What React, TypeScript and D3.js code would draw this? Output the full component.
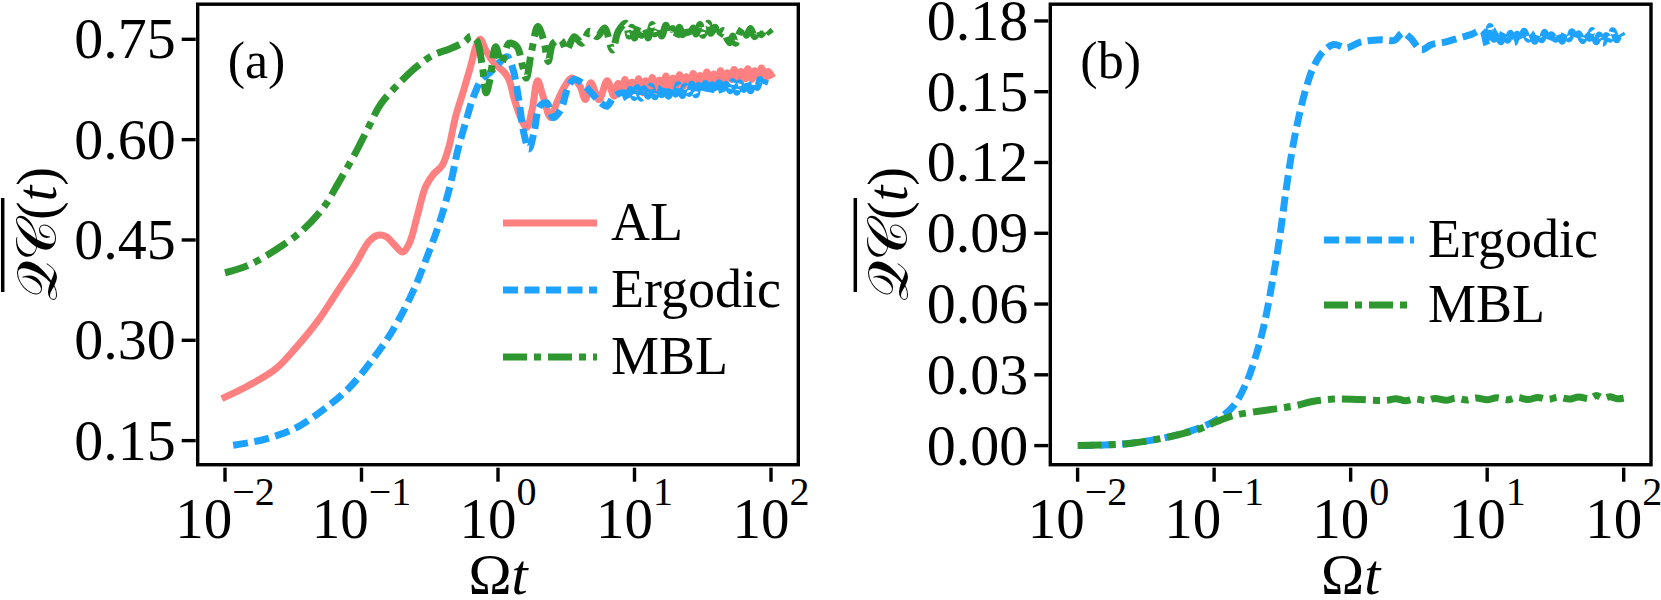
import React from 'react';
import * as d3 from 'd3';

// values: [log10(Ωt), value]
const alA = [
  [-2.0, 0.215], [-1.83, 0.232], [-1.63, 0.257], [-1.48, 0.289], [-1.32, 0.329], [-1.17, 0.375],
  [-1.05, 0.412], [-0.94, 0.449], [-0.88, 0.457], [-0.82, 0.455], [-0.76, 0.443], [-0.7, 0.432],
  [-0.65, 0.445], [-0.59, 0.487], [-0.53, 0.53], [-0.47, 0.549], [-0.41, 0.561], [-0.36, 0.589],
  [-0.31, 0.635], [-0.25, 0.675], [-0.2, 0.71], [-0.16, 0.74], [-0.13, 0.75], [-0.09, 0.734],
  [-0.03, 0.715], [0.04, 0.702], [0.08, 0.69], [0.12, 0.66], [0.17, 0.631], [0.21, 0.618],
  [0.25, 0.645], [0.29, 0.688], [0.33, 0.665], [0.385, 0.633], [0.43, 0.655], [0.49, 0.68],
  [0.54, 0.692], [0.6, 0.68], [0.64, 0.66], [0.68, 0.685], [0.74, 0.66], [0.8, 0.688],
  [0.85, 0.665], [0.88, 0.684], [0.91, 0.672], [0.93, 0.69], [0.96, 0.668], [0.98, 0.686],
  [1.01, 0.674], [1.03, 0.691], [1.06, 0.67], [1.08, 0.688], [1.11, 0.676], [1.13, 0.693],
  [1.16, 0.673], [1.18, 0.689], [1.21, 0.679], [1.23, 0.695], [1.26, 0.677], [1.28, 0.692],
  [1.31, 0.681], [1.33, 0.697], [1.36, 0.68], [1.38, 0.694], [1.41, 0.684], [1.43, 0.699],
  [1.46, 0.683], [1.48, 0.696], [1.51, 0.686], [1.53, 0.701], [1.56, 0.685], [1.58, 0.698],
  [1.61, 0.688], [1.63, 0.703], [1.66, 0.687], [1.68, 0.7], [1.71, 0.69], [1.73, 0.705],
  [1.76, 0.689], [1.78, 0.702], [1.81, 0.691], [1.83, 0.706], [1.86, 0.69], [1.88, 0.703],
  [1.91, 0.693], [1.93, 0.707], [1.96, 0.692], [1.98, 0.702], [2.0, 0.697],
];

const ergA = [
  [-1.94, 0.143], [-1.71, 0.152], [-1.48, 0.169], [-1.25, 0.201], [-1.09, 0.229], [-0.935, 0.267],
  [-0.78, 0.312], [-0.625, 0.372], [-0.51, 0.43], [-0.43, 0.475], [-0.35, 0.532], [-0.295, 0.584],
  [-0.24, 0.624], [-0.18, 0.664], [-0.12, 0.69], [-0.06, 0.7], [0.0, 0.713], [0.067, 0.724],
  [0.11, 0.705], [0.152, 0.66], [0.188, 0.611], [0.227, 0.586], [0.264, 0.611], [0.306, 0.65],
  [0.356, 0.655], [0.404, 0.633], [0.46, 0.645], [0.516, 0.68], [0.558, 0.69], [0.614, 0.685],
  [0.684, 0.67], [0.754, 0.655], [0.796, 0.65], [0.853, 0.665], [0.92, 0.67], [0.95, 0.66],
  [0.97, 0.675], [1.0, 0.663], [1.02, 0.678], [1.05, 0.662], [1.07, 0.676], [1.1, 0.665],
  [1.12, 0.68], [1.15, 0.664], [1.17, 0.677], [1.2, 0.667], [1.22, 0.681], [1.25, 0.665],
  [1.27, 0.679], [1.3, 0.668], [1.32, 0.682], [1.35, 0.666], [1.37, 0.68], [1.4, 0.669],
  [1.42, 0.683], [1.45, 0.667], [1.47, 0.681], [1.5, 0.67], [1.52, 0.684], [1.55, 0.668],
  [1.57, 0.682], [1.6, 0.671], [1.62, 0.685], [1.65, 0.669], [1.67, 0.683], [1.7, 0.673],
  [1.72, 0.687], [1.75, 0.671], [1.77, 0.685], [1.8, 0.675], [1.82, 0.689], [1.85, 0.673],
  [1.87, 0.686], [1.9, 0.678], [1.92, 0.69], [1.94, 0.68], [1.96, 0.69],
];

const mblA = [
  [-2.0, 0.401], [-1.83, 0.412], [-1.63, 0.435], [-1.44, 0.463], [-1.28, 0.498], [-1.17, 0.535],
  [-1.05, 0.578], [-0.95, 0.618], [-0.86, 0.653], [-0.74, 0.681], [-0.59, 0.71], [-0.47, 0.727],
  [-0.35, 0.736], [-0.24, 0.747], [-0.2, 0.755], [-0.157, 0.749], [-0.115, 0.71], [-0.087, 0.67],
  [-0.059, 0.69], [-0.017, 0.739], [0.026, 0.715], [0.081, 0.744], [0.138, 0.739], [0.18, 0.71],
  [0.207, 0.692], [0.244, 0.73], [0.292, 0.769], [0.334, 0.749], [0.368, 0.717], [0.404, 0.744],
  [0.46, 0.749], [0.502, 0.734], [0.558, 0.754], [0.614, 0.744], [0.67, 0.762], [0.726, 0.754],
  [0.782, 0.767], [0.838, 0.734], [0.881, 0.762], [0.936, 0.774], [0.96, 0.755], [0.98, 0.768],
  [1.0, 0.752], [1.03, 0.77], [1.05, 0.756], [1.08, 0.767], [1.1, 0.752], [1.13, 0.772],
  [1.15, 0.758], [1.18, 0.769], [1.2, 0.755], [1.23, 0.771], [1.25, 0.758], [1.28, 0.766],
  [1.3, 0.752], [1.33, 0.768], [1.35, 0.757], [1.38, 0.77], [1.4, 0.754], [1.43, 0.767],
  [1.45, 0.758], [1.48, 0.772], [1.5, 0.756], [1.54, 0.774], [1.56, 0.759], [1.59, 0.768],
  [1.61, 0.753], [1.65, 0.763], [1.68, 0.75], [1.7, 0.745], [1.72, 0.755], [1.74, 0.744],
  [1.77, 0.76], [1.8, 0.768], [1.82, 0.756], [1.85, 0.766], [1.88, 0.754], [1.91, 0.764],
  [1.93, 0.757], [1.96, 0.766], [2.0, 0.758],
];

const ergB = [
  [-1.99, 0.0], [-1.64, 0.0008], [-1.33, 0.0037], [-1.13, 0.007], [-0.98, 0.011], [-0.86, 0.0167],
  [-0.765, 0.0265], [-0.687, 0.0395], [-0.629, 0.0525], [-0.571, 0.0703], [-0.52, 0.0882], [-0.474, 0.108],
  [-0.427, 0.1256], [-0.377, 0.14], [-0.326, 0.1516], [-0.272, 0.1605], [-0.202, 0.167], [-0.124, 0.17],
  [-0.027, 0.1686], [0.07, 0.171], [0.225, 0.172], [0.322, 0.1718], [0.381, 0.175], [0.439, 0.1727],
  [0.517, 0.1678], [0.594, 0.17], [0.691, 0.171], [0.789, 0.1727], [0.885, 0.1743], [0.963, 0.176],
  [1.0, 0.1695], [1.02, 0.1776], [1.05, 0.1722], [1.07, 0.176], [1.1, 0.1712], [1.12, 0.1752],
  [1.15, 0.1718], [1.17, 0.1748], [1.2, 0.1708], [1.22, 0.1744], [1.25, 0.1716], [1.27, 0.1756],
  [1.3, 0.1722], [1.32, 0.1748], [1.35, 0.1714], [1.37, 0.1746], [1.4, 0.172], [1.42, 0.1752],
  [1.45, 0.1716], [1.47, 0.1742], [1.5, 0.1722], [1.52, 0.175], [1.55, 0.1714], [1.57, 0.1748],
  [1.6, 0.1724], [1.62, 0.1754], [1.65, 0.1718], [1.67, 0.1746], [1.7, 0.1716], [1.72, 0.1748],
  [1.75, 0.1726], [1.77, 0.176], [1.8, 0.1712], [1.82, 0.174], [1.85, 0.1706], [1.87, 0.1738],
  [1.9, 0.1722], [1.92, 0.1758], [1.95, 0.172], [1.97, 0.1752], [1.99, 0.1735],
];

const mblB = [
  [-2.0, 0.0], [-1.64, 0.0008], [-1.33, 0.0037], [-1.095, 0.0073], [-0.98, 0.0102], [-0.86, 0.0127],
  [-0.707, 0.0143], [-0.513, 0.0159], [-0.396, 0.017], [-0.28, 0.0187], [-0.124, 0.0197], [0.07, 0.0195],
  [0.264, 0.0192], [0.33, 0.0199], [0.4, 0.019], [0.47, 0.0198], [0.55, 0.0191], [0.62, 0.02],
  [0.7, 0.0192], [0.77, 0.0201], [0.85, 0.0193], [0.92, 0.0202], [1.0, 0.0194], [1.07, 0.0203],
  [1.15, 0.0194], [1.22, 0.0204], [1.3, 0.0195], [1.37, 0.0204], [1.45, 0.0196], [1.52, 0.0205],
  [1.6, 0.0197], [1.67, 0.0206], [1.75, 0.0199], [1.8, 0.0212], [1.85, 0.0201], [1.9, 0.0207],
  [1.95, 0.0199], [2.0, 0.0201],
];

const xTickExp = [-2, -1, 0, 1, 2];
const yTicksA = [0.15, 0.3, 0.45, 0.6, 0.75];
const yTicksB = [0.0, 0.03, 0.06, 0.09, 0.12, 0.15, 0.18];

const COLORS = { al: '#ff8080', erg: '#1ea2ff', mbl: '#2f972f' };
const DASH = { al: null, erg: '15 6.5', mbl: '24 7 7 7' };
const FONT = "'Liberation Serif', 'Times New Roman', serif";

const Panel = ({ left, right, yDomain, yTicks, series, letter, labelX, legend }) => {
  const top = 4.2, bottom = 464.7;
  const x = d3.scaleLog().domain([10 ** -2.2, 10 ** 2.2]).range([left, right]);
  const y = d3.scaleLinear().domain(yDomain).range([bottom, top]);
  const line = d3.line()
    .x((d) => x(10 ** d[0]))
    .y((d) => y(d[1]))
    .curve(d3.curveCatmullRom.alpha(0.5));
  const fmt = d3.format('.2f');
  const cx = (left + right) / 2;

  return (
    <g>
      <defs>
        <clipPath id={'clip' + letter}>
          <rect x={left} y={top} width={right - left} height={bottom - top} />
        </clipPath>
      </defs>
      <g clipPath={`url(#clip${letter})`}>
        {series.map((s) => (
          <path key={s.key} d={line(s.data)} fill="none" stroke={COLORS[s.key]} strokeWidth={7}
            strokeDasharray={DASH[s.key] || undefined} strokeLinecap={DASH[s.key] ? 'butt' : 'square'}
            strokeLinejoin="round" />
        ))}
      </g>
      <rect x={left} y={top} width={right - left} height={bottom - top} fill="none" stroke="#000" strokeWidth={3.4} />

      {yTicks.map((t) => (
        <g key={t}>
          <line x1={left - 16} x2={left - 2} y1={y(t)} y2={y(t)} stroke="#000" strokeWidth={3.4} />
          <text x={left - 22} y={y(t) + 19} textAnchor="end" fontSize={58}>{fmt(t)}</text>
        </g>
      ))}

      {xTickExp.map((e) => (
        <g key={e}>
          <line x1={x(10 ** e)} x2={x(10 ** e)} y1={bottom + 3} y2={bottom + 17} stroke="#000" strokeWidth={3.4} />
          <text x={x(10 ** e)} y={538} textAnchor="middle" fontSize={57}>
            10<tspan fontSize={40} dy={-33}>{e < 0 ? '\u2212' + Math.abs(e) : e}</tspan>
          </text>
        </g>
      ))}

      <text x={cx} y={594} textAnchor="middle" fontSize={58}>
        Ω<tspan fontStyle="italic">t</tspan>
      </text>

      <g transform={`translate(${labelX},234) rotate(-90)`}>
        <text textAnchor="middle" fontSize={56}>
          <tspan>{'\u{1D4AC}\u{1D49E}'}</tspan>(<tspan fontStyle="italic">t</tspan>)
        </text>
        <line x1={-58} x2={36} y1={-labelX + left - 197 + 2} y2={-labelX + left - 197 + 2} stroke="#000" strokeWidth={3.5} />
      </g>

      <text x={left + 30} y={78} fontSize={52}>({letter})</text>

      {legend.items.map((it, i) => {
        const ly = legend.y0 + i * legend.dy;
        return (
          <g key={it.key}>
            <line x1={legend.x0} x2={legend.x1} y1={ly} y2={ly} stroke={COLORS[it.key]} strokeWidth={7}
              strokeDasharray={DASH[it.key] || undefined} />
            <text x={legend.x1 + 14} y={ly + 17} fontSize={54}>{it.label}</text>
          </g>
        );
      })}
    </g>
  );
};

export default function App() {
  return (
    <svg width={1661} height={600} style={{ position: 'absolute', left: 0, top: 0, background: '#fff', fontFamily: FONT }}>
      <Panel
        left={197.7} right={798.3} yDomain={[0.114, 0.8025]} yTicks={yTicksA} letter="a" labelX={56}
        series={[{ key: 'al', data: alA }, { key: 'erg', data: ergA }, { key: 'mbl', data: mblA }]}
        legend={{ x0: 503, x1: 597, y0: 223, dy: 67, items: [
          { key: 'al', label: 'AL' }, { key: 'erg', label: 'Ergodic' }, { key: 'mbl', label: 'MBL' }] }}
      />
      <Panel
        left={1050.3} right={1651} yDomain={[-0.0081, 0.1871]} yTicks={yTicksB} letter="b" labelX={907}
        series={[{ key: 'erg', data: ergB }, { key: 'mbl', data: mblB }]}
        legend={{ x0: 1324, x1: 1414, y0: 240, dy: 65, items: [
          { key: 'erg', label: 'Ergodic' }, { key: 'mbl', label: 'MBL' }] }}
      />
    </svg>
  );
}
